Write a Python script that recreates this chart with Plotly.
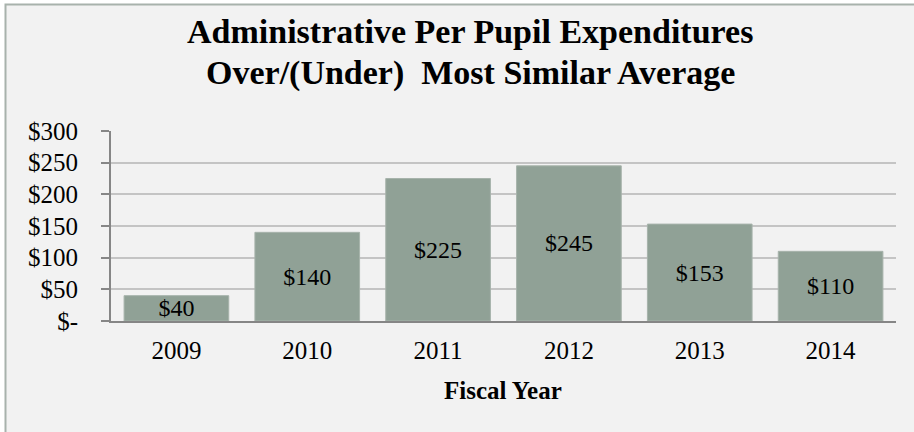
import plotly.graph_objects as go

years = ["2009", "2010", "2011", "2012", "2013", "2014"]
values = [40, 140, 225, 245, 153, 110]
labels = ["$40", "$140", "$225", "$245", "$153", "$110"]
y_tickvals = [0, 50, 100, 150, 200, 250, 300]
y_ticktext = ["$-", "$50", "$100", "$150", "$200", "$250", "$300"]
title_lines = ["Administrative Per Pupil Expenditures", "Over/(Under)  Most Similar Average"]
x_title = "Fiscal Year"

FONT = "Liberation Serif"
W, H = 914, 432
L, R, T, B = 111, 18, 131, 111
pw, ph = W - L - R, H - T - B

def px_x(p):
    return (p - L) / pw

def px_y(p):
    return (H - B - p) / ph

fig = go.Figure()
fig.add_trace(go.Bar(
    x=years, y=values, text=labels,
    textposition="inside", insidetextanchor="middle", constraintext="none",
    textfont=dict(family=FONT, size=24, color="#000000"),
    marker=dict(color="#90a196", line=dict(color="#a7b3ab", width=1)),
    width=0.8, hoverinfo="skip",
))

fig.add_shape(type="rect", xref="paper", yref="paper",
              x0=px_x(5.5), x1=px_x(930), y0=px_y(450), y1=px_y(4.5),
              fillcolor="#f2f2f2", line=dict(color="#a8b2ac", width=2), layer="below")

fig.add_annotation(text="<b>" + title_lines[0] + "</b>", xref="paper", yref="paper",
                   x=px_x(470), y=px_y(32), showarrow=False,
                   font=dict(family=FONT, size=34, color="#000000"), xanchor="center", yanchor="middle")
fig.add_annotation(text="<b>" + title_lines[1] + "</b>", xref="paper", yref="paper",
                   x=px_x(470), y=px_y(73), showarrow=False,
                   font=dict(family=FONT, size=34, color="#000000"), xanchor="center", yanchor="middle")
fig.add_annotation(text="<b>" + x_title + "</b>", xref="paper", yref="paper",
                   x=px_x(503), y=px_y(390), showarrow=False,
                   font=dict(family=FONT, size=25, color="#000000"), xanchor="center", yanchor="middle")

fig.update_layout(
    width=W, height=H,
    margin=dict(l=L, r=R, t=T, b=B, autoexpand=False),
    paper_bgcolor="#ffffff", plot_bgcolor="rgba(0,0,0,0)",
    showlegend=False,
    font=dict(family=FONT, color="#000000"),
)
fig.update_xaxes(
    automargin=False,
    showline=True, linecolor="#868686", linewidth=2,
    showgrid=False, ticks="", tickfont=dict(family=FONT, size=25, color="#000000"),
    ticklabelstandoff=6,
)
fig.update_yaxes(
    automargin=False,
    range=[0, 300], tickvals=y_tickvals, ticktext=y_ticktext,
    showline=True, linecolor="#868686", linewidth=2,
    showgrid=True, gridcolor="#c4c4c4", gridwidth=2,
    ticks="outside", ticklen=8, tickcolor="#868686", tickwidth=2,
    tickfont=dict(family=FONT, size=25, color="#000000"),
    ticklabelstandoff=18, zeroline=False,
)

fig.write_html("out.html", config={"displayModeBar": False},
               post_script="document.body.style.margin='0';")
